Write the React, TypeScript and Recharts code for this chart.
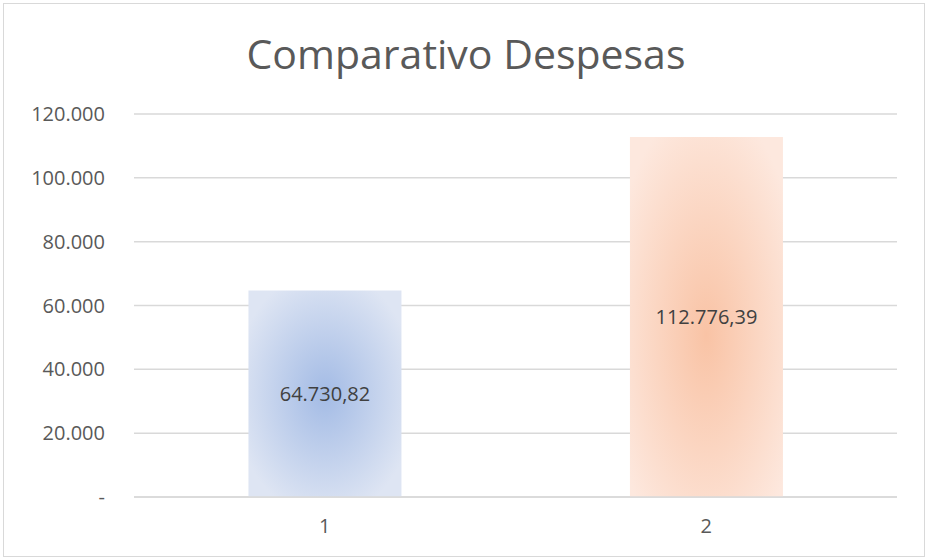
import React from 'react';
import { BarChart, Bar, XAxis, YAxis, CartesianGrid, LabelList, Cell } from 'recharts';

const categories = ['1', '2'];
const despesas = [64730.82, 112776.39];
const yTicks = [0, 20000, 40000, 60000, 80000, 100000, 120000];
const title = 'Comparativo Despesas';

const data = categories.map((c, i) => ({ name: c, value: despesas[i] }));

const fmtInt = (v: number) => (v === 0 ? '-' : Math.round(v).toString().replace(/\B(?=(\d{3})+(?!\d))/g, '.'));
const fmtDec = (v: number) => {
  const [ip, dp] = v.toFixed(2).split('.');
  return ip.replace(/\B(?=(\d{3})+(?!\d))/g, '.') + ',' + dp;
};

const FONT = '"Open Sans", "Noto Sans", sans-serif';

export default function App() {
  return (
    <div style={{ position: 'absolute', left: 0, top: 0, width: 928, height: 560, background: '#fff', fontFamily: FONT }}>
      <div style={{ position: 'absolute', left: 3, top: 3, width: 920, height: 552, border: '1.5px solid #d9d9d9' }} />
      <div style={{ position: 'absolute', left: 0, top: 25, width: 932, textAlign: 'center', fontSize: 41, color: '#595959', lineHeight: '56px' }}>
        {title}
      </div>
      <div style={{ position: 'absolute', left: 0, top: 0 }}>
        <BarChart width={928} height={560} data={data} margin={{ top: 114, right: 31, bottom: 33, left: 24 }} barCategoryGap="30%">
          <defs>
            <radialGradient id="gBlue" cx="50%" cy="50%" r="60%">
              <stop offset="0%" stopColor="#a3bbe5" />
              <stop offset="100%" stopColor="#dee5f3" />
            </radialGradient>
            <radialGradient id="gOrange" cx="50%" cy="55%" r="65%">
              <stop offset="0%" stopColor="#f9c3a5" />
              <stop offset="100%" stopColor="#fde8de" />
            </radialGradient>
          </defs>
          <CartesianGrid vertical={false} stroke="#d9d9d9" strokeWidth={1.5} />
          <XAxis dataKey="name" axisLine={{ stroke: '#d9d9d9', strokeWidth: 1.5 }} tickLine={false} tickMargin={16} height={30}
            tick={{ fill: '#595959', fontSize: 20, fontFamily: FONT }} />
          <YAxis domain={[0, 120000]} ticks={yTicks} width={110} axisLine={false} tickLine={false} tickMargin={23}
            tickFormatter={fmtInt} tick={{ fill: '#595959', fontSize: 20, fontFamily: FONT }} />
          <Bar dataKey="value" isAnimationActive={false}>
            {data.map((d, i) => (
              <Cell key={d.name} fill={i === 0 ? 'url(#gBlue)' : 'url(#gOrange)'} />
            ))}
            <LabelList dataKey="value" position="center" formatter={(v: any) => fmtDec(Number(v))}
              style={{ fill: '#404040', fontSize: 20, fontFamily: FONT }} />
          </Bar>
        </BarChart>
      </div>
    </div>
  );
}
